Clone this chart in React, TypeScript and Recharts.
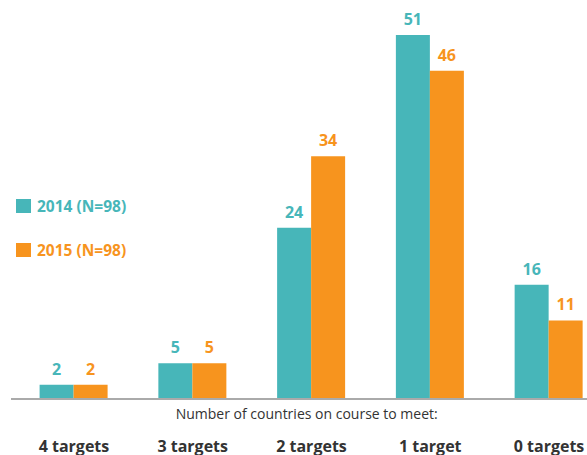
import { Bar, BarChart, LabelList, Legend, XAxis, YAxis } from 'recharts';

const categories = ['4 targets', '3 targets', '2 targets', '1 target', '0 targets'];
const values2014 = [2, 5, 24, 51, 16];
const values2015 = [2, 5, 34, 46, 11];
const seriesNames = ['2014 (N=98)', '2015 (N=98)'];
const axisTitle = 'Number of countries on course to meet:';

const TEAL = '#47B6B9';
const ORANGE = '#F7941E';
const FONT = '"Open Sans", sans-serif';

const data = categories.map((c, i) => ({
  name: c,
  y2014: values2014[i],
  y2015: values2015[i],
}));

const TargetTick = (props: any) => {
  const { x, y, payload } = props;
  return (
    <text x={x} y={y} dy={45} textAnchor="middle" fontFamily={FONT} fontWeight={700} fontSize={16} fill="#333">
      {payload.value}
    </text>
  );
};

const renderLegend = (props: any) => {
  const { payload } = props;
  return (
    <div style={{ fontFamily: FONT }}>
      {payload.map((item: any) => (
        <div
          key={item.value}
          style={{ display: 'flex', alignItems: 'center', height: 44, color: item.color, fontWeight: 700, fontSize: 15.5 }}
        >
          <span style={{ display: 'inline-block', width: 15, height: 14, background: item.color, marginRight: 6 }} />
          {item.value}
        </div>
      ))}
    </div>
  );
};

export default function App() {
  return (
    <div style={{ position: 'absolute', left: 0, top: 0, width: 587, height: 455, overflow: 'hidden', background: '#fff' }}>
      <BarChart
        width={620}
        height={455}
        data={data}
        margin={{ top: 35, right: 11.6, left: 11, bottom: 0 }}
        barSize={34}
        barGap={0}
      >
        <XAxis
          dataKey="name"
          axisLine={{ stroke: '#aaa', strokeWidth: 2 }}
          tickLine={false}
          tick={<TargetTick />}
          padding={{ left: 3.6, right: 0 }}
          height={56}
          interval={0}
          label={(p: any) => {
            const vb = p.viewBox;
            return (
              <text x={vb.x + vb.width / 2 - 3} y={vb.y + 20} textAnchor="middle" fontFamily={FONT} fontSize={14} fill="#333">
                {axisTitle}
              </text>
            );
          }}
        />
        <YAxis hide domain={[0, 51]} />
        <Legend
          layout="vertical"
          align="center"
          verticalAlign="middle"
          content={renderLegend}
          wrapperStyle={{ left: 16, top: 184, width: 'auto' }}
        />
        <Bar dataKey="y2014" name={seriesNames[0]} fill={TEAL} isAnimationActive={false}>
          <LabelList dataKey="y2014" position="top" offset={10} fill={TEAL} fontFamily={FONT} fontWeight={700} fontSize={16} />
        </Bar>
        <Bar dataKey="y2015" name={seriesNames[1]} fill={ORANGE} isAnimationActive={false}>
          <LabelList dataKey="y2015" position="top" offset={10} fill={ORANGE} fontFamily={FONT} fontWeight={700} fontSize={16} />
        </Bar>
      </BarChart>
    </div>
  );
}
